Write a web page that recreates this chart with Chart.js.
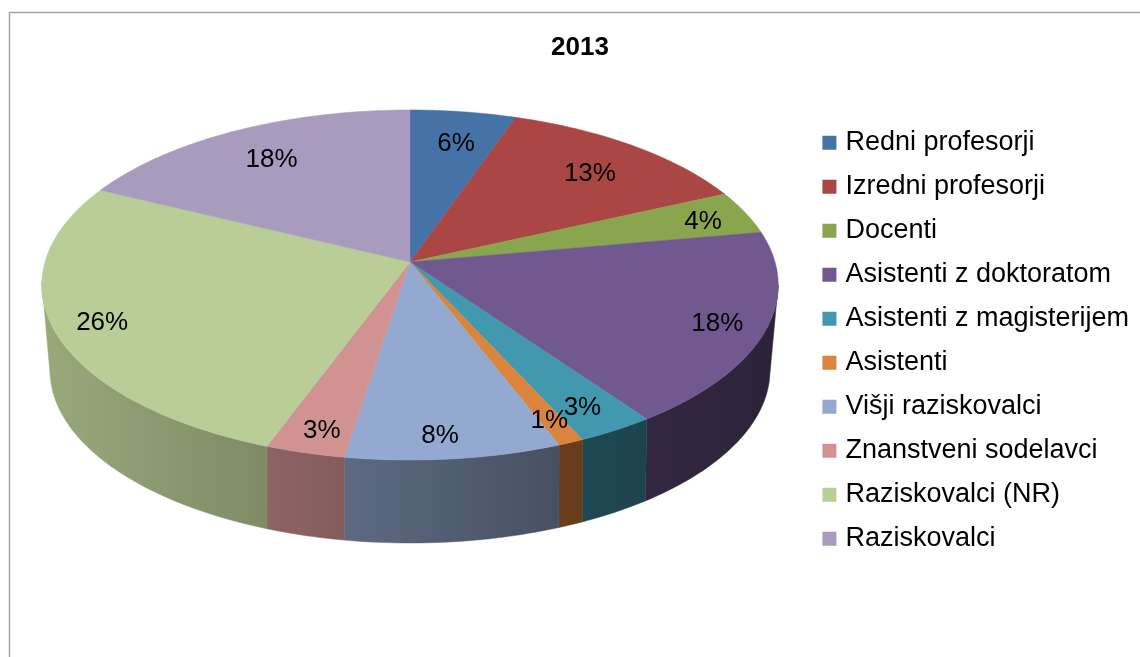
<!DOCTYPE html>
<html>
<head>
<meta charset="utf-8">
<title>2013</title>
<script src="https://cdn.jsdelivr.net/npm/chart.js@4/dist/chart.umd.min.js"></script>
<style>
	html, body { margin: 0; padding: 0; background: #fff; overflow: hidden; }
	canvas { display: block; }
</style>
</head>
<body>
<canvas id="staff_chart" width="1140" height="657"></canvas>
<script>
//staff categories and their share in percent
var categories = [
	"Redni profesorji",
	"Izredni profesorji",
	"Docenti",
	"Asistenti z doktoratom",
	"Asistenti z magisterijem",
	"Asistenti",
	"Višji raziskovalci",
	"Znanstveni sodelavci",
	"Raziskovalci (NR)",
	"Raziskovalci"
];
var shares = [6, 13, 4, 18, 3, 1, 8, 3, 26, 18];

var sliceColors = ["#4573a7", "#aa4644", "#89a54e", "#71588f", "#4298af", "#db843d", "#93a9cf", "#d19392", "#b9cd96", "#a99bbd"];

//how far out each percent label sits, as a fraction of the disc radius
var labelRadius = [0.79, 0.78, 0.87, 0.87, 0.86, 0.88, 0.88, 0.88, 0.87, 0.78];
//and how many degrees it is turned away from the middle of its slice
var labelTurn = [0.7, 0.8, 0, 0, 0.3, 0, 1.25, -0.45, 0, 0];

var FONT = '"Liberation Sans", Arial, sans-serif';

//the tilted disc: where the slices meet, its radii and the perspective strength
var disc = { x: 410, y: 262, rx: 365, ry: 172, k: 0.1314 };
//lower edge of the wall, a plain ellipse
var rim = { y: 370, rx: 360, ry: 173 };
//the wall is only visible between these two angles (degrees)
var wallFrom = 100.5, wallTo = 263.4;

//slices on the near side look a few degrees narrower because of the tilt
function foreshorten(a)
{
	var deg = a * 180 / Math.PI;
	var d = 0;
	if (deg < 25) d = 3 * deg / 25;
	else if (deg < 165) d = 3;
	else if (deg < 190) d = 3 - 1.2 * (deg - 165) / 25;
	else if (deg < 295) d = 1.8 - 2.8 * (deg - 190) / 105;
	else d = -(360 - deg) / 65;
	return (deg - d) * Math.PI / 180;
}

//angle is clockwise from 12 o'clock, r is 0..1 out from the middle
function project(a, r)
{
	var t = foreshorten(a);
	var u = r * Math.sin(t);
	var v = -r * Math.cos(t);
	var w = 1 - disc.k * v;
	return { x: disc.x + disc.rx * u / w, y: disc.y + disc.ry * v / w };
}

//point of the lower edge below a point of the top edge
function projectRim(a)
{
	var p = project(a, 1);
	var dx = p.x - disc.x;
	var q = Math.abs(dx) / disc.rx;
	dx -= (dx < 0 ? -1 : 1) * 8 * q * q * q * q;
	var e = Math.min(1, Math.abs(dx) / rim.rx);
	return { x: disc.x + dx, y: rim.y + rim.ry * Math.sqrt(1 - e * e) };
}

function shade(hex, f)
{
	var n = parseInt(hex.slice(1), 16);
	return 'rgb(' + Math.round((n >> 16) * f) + ',' + Math.round(((n >> 8) & 255) * f) + ',' + Math.round((n & 255) * f) + ')';
}

function arcSteps(start, end)
{
	var steps = [];
	var n = Math.max(2, Math.ceil((end - start) / 0.02));
	for (var i = 0; i <= n; i++) steps.push(start + (end - start) * i / n);
	return steps;
}

//frame, pie wall, pie top and percent labels; the angles come from the chart's arc elements
var pie3d = {
	id: 'pie3d',
	beforeDraw: function(chart) {
		var ctx = chart.ctx;
		ctx.save();
		ctx.strokeStyle = '#a3a3a3';
		ctx.lineWidth = 1.5;
		ctx.beginPath();
		ctx.moveTo(9.5, 657);
		ctx.lineTo(9.5, 12.5);
		ctx.lineTo(1140, 12.5);
		ctx.stroke();
		ctx.restore();
	},
	beforeDatasetsDraw: function(chart) {
		var ctx = chart.ctx;
		var arcs = chart.getDatasetMeta(0).data.map(function(el, i) {
			return { i: i, start: el.startAngle + Math.PI / 2, end: el.endAngle + Math.PI / 2, color: el.options.backgroundColor };
		});
		var from = wallFrom * Math.PI / 180;
		var to = wallTo * Math.PI / 180;

		ctx.save();

		//wall, only the part facing the viewer
		arcs.forEach(function(arc) {
			var start = Math.max(arc.start, from);
			var end = Math.min(arc.end, to);
			if (end <= start) return;
			var steps = arcSteps(start, end);
			var light = ctx.createLinearGradient(50, 0, 770, 0);
			light.addColorStop(0, shade(arc.color, 0.82));
			light.addColorStop(0.3, shade(arc.color, 0.68));
			light.addColorStop(0.7, shade(arc.color, 0.48));
			light.addColorStop(1, shade(arc.color, 0.4));
			ctx.beginPath();
			steps.forEach(function(a, j) {
				var p = project(a, 1);
				if (j == 0) ctx.moveTo(p.x, p.y);
				else ctx.lineTo(p.x, p.y);
			});
			steps.slice().reverse().forEach(function(a) {
				var p = projectRim(a);
				ctx.lineTo(p.x, p.y);
			});
			ctx.closePath();
			ctx.fillStyle = light;
			ctx.strokeStyle = light;
			ctx.lineWidth = 0.5;
			ctx.fill();
			ctx.stroke();
		});

		//top face
		arcs.forEach(function(arc) {
			ctx.beginPath();
			ctx.moveTo(disc.x, disc.y);
			arcSteps(arc.start, arc.end).forEach(function(a) {
				var p = project(a, 1);
				ctx.lineTo(p.x, p.y);
			});
			ctx.closePath();
			ctx.fillStyle = arc.color;
			ctx.strokeStyle = arc.color;
			ctx.lineWidth = 0.5;
			ctx.fill();
			ctx.stroke();
		});

		//percent labels
		ctx.fillStyle = '#000';
		ctx.font = '26px ' + FONT;
		ctx.textAlign = 'center';
		ctx.textBaseline = 'middle';
		arcs.forEach(function(arc) {
			var mid = (arc.start + arc.end) / 2 + labelTurn[arc.i] * Math.PI / 180;
			var p = project(mid, labelRadius[arc.i]);
			ctx.fillText(shares[arc.i] + '%', p.x, p.y + 3);
		});

		ctx.restore();
		return false; //the flat arcs are not drawn
	}
};

var staffChart = new Chart(document.getElementById('staff_chart'), {
	type: 'pie',
	data: {
		labels: categories,
		datasets: [{
			data: shares,
			backgroundColor: sliceColors,
			borderWidth: 0
		}]
	},
	options: {
		responsive: false,
		animation: false,
		events: [],
		layout: { padding: { left: 21, top: 14, right: 1, bottom: 0 } },
		plugins: {
			title: {
				display: true,
				text: '2013',
				color: '#000',
				font: { family: FONT, size: 26, weight: 'bold' },
				padding: { top: 18, bottom: 49 }
			},
			legend: {
				position: 'right',
				align: 'start',
				fullSize: false,
				labels: {
					color: '#000',
					font: { family: FONT, size: 27 },
					usePointStyle: true,
					pointStyle: 'rect',
					boxWidth: 5,
					boxHeight: 14,
					padding: 17
				}
			},
			tooltip: { enabled: false }
		}
	},
	plugins: [pie3d]
});
</script>
</body>
</html>
